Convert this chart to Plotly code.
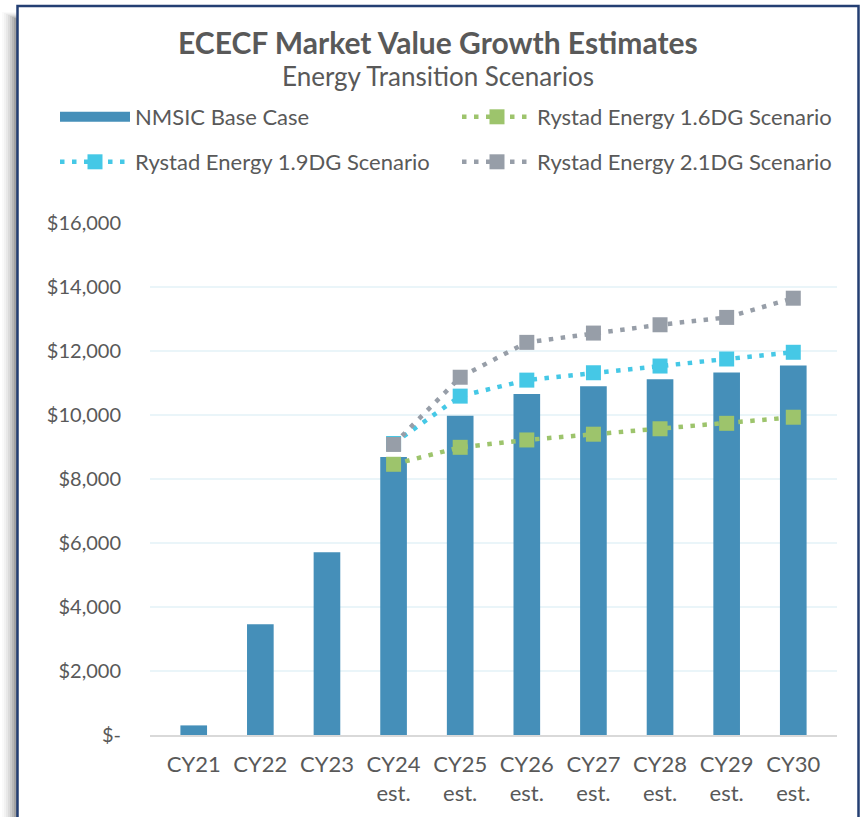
import plotly.graph_objects as go

categories = ["CY21", "CY22", "CY23", "CY24<br>est.", "CY25<br>est.", "CY26<br>est.",
              "CY27<br>est.", "CY28<br>est.", "CY29<br>est.", "CY30<br>est."]
base_case = [300, 3460, 5710, 8690, 9980, 10660, 10900, 11120, 11330, 11550]
rystad_16 = [None, None, None, 8460, 8990, 9220, 9400, 9570, 9740, 9930]
rystad_19 = [None, None, None, 9110, 10590, 11090, 11320, 11530, 11750, 11960]
rystad_21 = [None, None, None, 9080, 11180, 12270, 12560, 12820, 13050, 13650]
y_tickvals = [0, 2000, 4000, 6000, 8000, 10000, 12000, 14000, 16000]
y_ticktext = ["$-", "$2,000", "$4,000", "$6,000", "$8,000", "$10,000", "$12,000", "$14,000", "$16,000"]

OFF = 0  # page body margin removed via post_script
W, H = 860, 817
L, R, T, B = 150 - OFF, 860 - 837 + OFF, 223 - OFF, 817 - 735 + OFF
PW, PH = W - L - R, H - T - B


def px(x):
    return (x - OFF - L) / PW


def py(y):
    return (H - B - (y - OFF)) / PH


FONT = "Lato"
TXT = "#595959"
BAR = "#458FB9"
GREEN, CYAN, GREY = "#9DC46C", "#45C8E6", "#979EA8"
DASH = "4.5px,7.5px"

fig = go.Figure()
fig.add_trace(go.Bar(x=categories, y=base_case, name="NMSIC Base Case",
                     marker=dict(color=BAR, line=dict(width=0)), showlegend=False))
# legend-only entry so the key shows a wide bar swatch
fig.add_trace(go.Scatter(x=[None], y=[None], name="NMSIC Base Case", mode="lines",
                         line=dict(color=BAR, width=15), legend="legend", hoverinfo="skip"))
fig.add_trace(go.Scatter(x=categories, y=rystad_16, name="Rystad Energy 1.6DG Scenario",
                         mode="lines+markers", legend="legend",
                         line=dict(color=GREEN, width=4.5, dash=DASH),
                         marker=dict(symbol="square", size=15, color=GREEN)))
fig.add_trace(go.Scatter(x=categories, y=rystad_19, name="Rystad Energy 1.9DG Scenario",
                         mode="lines+markers", legend="legend2",
                         line=dict(color=CYAN, width=4.5, dash=DASH),
                         marker=dict(symbol="square", size=15, color=CYAN)))
fig.add_trace(go.Scatter(x=categories, y=rystad_21, name="Rystad Energy 2.1DG Scenario",
                         mode="lines+markers", legend="legend2",
                         line=dict(color=GREY, width=4.5, dash=DASH),
                         marker=dict(symbol="square", size=15, color=GREY)))

shapes = []
for i, op in enumerate([0.04, 0.06, 0.08, 0.11, 0.14, 0.18, 0.22, 0.26]):
    x0 = 2 + i * 2
    shapes.append(dict(type="rect", xref="paper", yref="paper", layer="below",
                       x0=px(x0), x1=px(17), y0=py(840), y1=py(12 + i),
                       line=dict(width=0), fillcolor=f"rgba(0,0,0,{op/2})"))
shapes.append(dict(type="rect", xref="paper", yref="paper", layer="below",
                   x0=px(17.5), x1=px(858.5), y0=py(840), y1=py(6),
                   line=dict(color="#243F73", width=2.5), fillcolor="white"))

legend_common = dict(orientation="h", xanchor="left", yanchor="middle",
                     itemwidth=70, entrywidth=317, entrywidthmode="pixels",
                     bgcolor="rgba(0,0,0,0)", font=dict(size=22, color=TXT, family=FONT))

fig.update_layout(
    width=W, height=H,
    margin=dict(l=L, r=R, t=T, b=B),
    paper_bgcolor="white", plot_bgcolor="white",
    font=dict(family=FONT, color=TXT, size=20),
    bargap=0.6,
    shapes=shapes,
    annotations=[
        dict(text="<b>ECECF Market Value Growth Estimates</b>", xref="paper", yref="paper",
             x=px(438), y=py(42), xanchor="center", yanchor="middle", showarrow=False,
             font=dict(size=30, color=TXT, family=FONT)),
        dict(text="Energy Transition Scenarios", xref="paper", yref="paper",
             x=px(438), y=py(76), xanchor="center", yanchor="middle", showarrow=False,
             font=dict(size=26, color=TXT, family=FONT)),
    ],
    legend=dict(x=px(55), y=py(117), **legend_common),
    legend2=dict(x=px(55), y=py(162), **legend_common),
    xaxis=dict(showgrid=False, showline=True, linecolor="#D9D9D9", linewidth=2,
               ticks="", ticklabelstandoff=9, tickfont=dict(size=22, color=TXT), fixedrange=True),
    yaxis=dict(range=[0, 16000], tickvals=y_tickvals, ticktext=y_ticktext,
               showgrid=True, gridcolor="#EAF5F9", gridwidth=1.5, zeroline=False,
               showline=False, ticks="", ticklabelstandoff=28,
               tickfont=dict(size=20, color=TXT)),
)

fig.write_html("out.html", config={"displayModeBar": False},
               post_script="document.body.style.margin='0';document.body.style.overflow='hidden';")
